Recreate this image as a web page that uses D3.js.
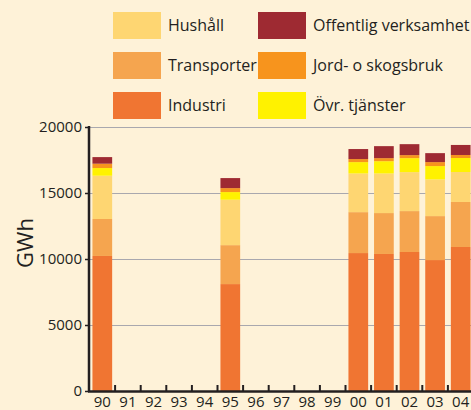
<!DOCTYPE html>
<html lang="sv">
<head>
  <meta charset="utf-8" />
  <title>GWh per sektor</title>
  <script src="https://d3js.org/d3.v7.min.js"></script>
  <style>
    html, body {
      margin: 0;
      padding: 0;
      background: #fef2d8;
    }
    svg text {
      font-family: "Open Sans", "Noto Sans", sans-serif;
      fill: #231f20;
    }
    .grid line {
      stroke: #a9a8ae;
      stroke-width: 1px;
    }
  </style>
</head>
<body>
  <svg id="chart" width="471" height="410"></svg>

  <script>
    // data
    const years = ["90", "91", "92", "93", "94", "95", "96", "97", "98", "99", "00", "01", "02", "03", "04"];
    const sectors = ["Industri", "Transporter", "Hushåll", "Övr. tjänster", "Jord- o skogsbruk", "Offentlig verksamhet"];
    const colors = ["#f07532", "#f5a54f", "#fed672", "#fff200", "#f7941d", "#9e2a32"];

    const industri     = { "90": 10230, "95": 8100, "00": 10450, "01": 10380, "02": 10530, "03": 9920, "04": 10910 };
    const transporter  = { "90": 2800,  "95": 2950, "00": 3100,  "01": 3100,  "02": 3100,  "03": 3330, "04": 3410 };
    const hushall      = { "90": 3280,  "95": 3440, "00": 2930,  "01": 3000,  "02": 2950,  "03": 2780, "04": 2270 };
    const ovrTjanster  = { "90": 580,   "95": 580,  "00": 860,   "01": 930,   "02": 1060,  "03": 1010, "04": 1060 };
    const jordSkog     = { "90": 330,   "95": 300,  "00": 230,   "01": 230,   "02": 230,   "03": 300,  "04": 230 };
    const offentlig    = { "90": 500,   "95": 760,  "00": 760,   "01": 910,   "02": 830,   "03": 680,  "04": 760 };

    const yTicks = [0, 5000, 10000, 15000, 20000];

    // legend layout: two columns, three rows
    const legendOrder = [
      ["Hushåll", "Offentlig verksamhet"],
      ["Transporter", "Jord- o skogsbruk"],
      ["Industri", "Övr. tjänster"]
    ];

    const series = [industri, transporter, hushall, ovrTjanster, jordSkog, offentlig];
    const rows = years.filter(y => industri[y] !== undefined).map(y => {
      const r = { year: y };
      sectors.forEach((s, i) => r[s] = series[i][y]);
      return r;
    });

    const svg = d3.select("#chart");
    const color = d3.scaleOrdinal().domain(sectors).range(colors);

    const x = d3.scaleBand()
      .domain(years)
      .range([89.5, 473.5])
      .paddingInner(0.23)
      .paddingOuter(0.115);

    const y = d3.scaleLinear()
      .domain([0, 20000])
      .range([391, 127]);

    // grid
    svg.append("g")
      .attr("class", "grid")
      .selectAll("line")
      .data(yTicks.filter(d => d > 0))
      .join("line")
      .attr("x1", 90).attr("x2", 471)
      .attr("y1", d => y(d) + 0.5).attr("y2", d => y(d) + 0.5);

    // stacked bars
    const stack = d3.stack().keys(sectors)(rows);
    svg.append("g")
      .selectAll("g")
      .data(stack)
      .join("g")
      .attr("fill", d => color(d.key))
      .selectAll("rect")
      .data(d => d)
      .join("rect")
      .attr("x", d => x(d.data.year))
      .attr("width", x.bandwidth())
      .attr("y", d => y(d[1]))
      .attr("height", d => y(d[0]) - y(d[1]));

    // y axis
    const yAxis = svg.append("g")
      .attr("transform", "translate(89,0)")
      .call(d3.axisLeft(y).tickValues(yTicks).tickSize(4).tickPadding(3).tickFormat(d3.format("d")));
    yAxis.select(".domain").remove();
    yAxis.selectAll(".tick line").attr("stroke", "#231f20").attr("stroke-width", 1.5);
    yAxis.selectAll("text").attr("font-size", 15).style("fill", "#231f20");
    svg.append("line")
      .attr("x1", 89).attr("x2", 89)
      .attr("y1", 126).attr("y2", 392)
      .attr("stroke", "#231f20").attr("stroke-width", 2.5);

    // x axis
    const step = x.step();
    const xAxis = svg.append("g")
      .attr("transform", "translate(0,391)")
      .call(d3.axisBottom(x).tickSize(0).tickPadding(5));
    xAxis.select(".domain").remove();
    xAxis.selectAll("text").attr("font-size", 15).style("fill", "#231f20");
    svg.append("g")
      .selectAll("line")
      .data(years)
      .join("line")
      .attr("x1", d => x(d) + x.bandwidth() + step * 0.115)
      .attr("x2", d => x(d) + x.bandwidth() + step * 0.115)
      .attr("y1", 391).attr("y2", 385)
      .attr("stroke", "#231f20").attr("stroke-width", 2);
    svg.append("line")
      .attr("x1", 88).attr("x2", 471)
      .attr("y1", 391.5).attr("y2", 391.5)
      .attr("stroke", "#231f20").attr("stroke-width", 2.5);

    // y label
    svg.append("text")
      .attr("transform", "translate(33,243) rotate(-90)")
      .attr("text-anchor", "middle")
      .attr("font-size", 22)
      .text("GWh");

    // legend
    const legend = svg.append("g");
    legendOrder.forEach((row, ri) => {
      row.forEach((name, ci) => {
        const gx = ci === 0 ? 113 : 258;
        const gy = 12 + ri * 40;
        legend.append("rect")
          .attr("x", gx).attr("y", gy)
          .attr("width", 48).attr("height", 27)
          .attr("fill", color(name));
        legend.append("text")
          .attr("x", gx + 55)
          .attr("y", gy + 19)
          .attr("font-size", 16)
          .text(name);
      });
    });
  </script>
</body>
</html>
